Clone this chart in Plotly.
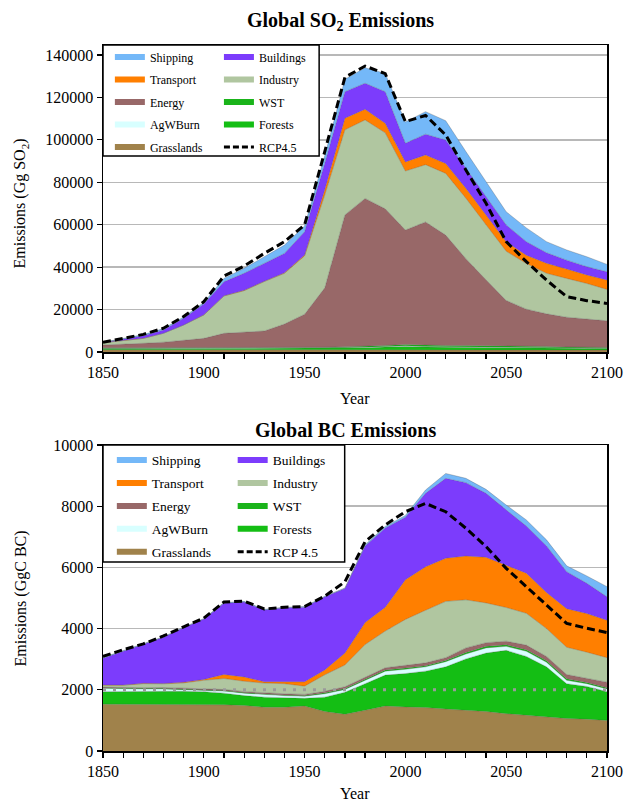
import plotly.graph_objects as go

# ---------------- data ----------------
years = [1850, 1860, 1870, 1880, 1890, 1900, 1910, 1920, 1930, 1940, 1950, 1960, 1970,
         1980, 1990, 2000, 2010, 2020, 2030, 2040, 2050, 2060, 2070, 2080, 2090, 2100]

# Global SO2 emissions (Gg SO2), stacked bottom -> top
so2_grasslands = [1100, 1100, 1100, 1100, 1100, 1100, 1050, 1050, 1000, 1000, 1000, 950, 950,
                  950, 900, 900, 900, 900, 900, 900, 900, 900, 900, 900, 900, 900]
so2_forests = [500, 500, 500, 500, 500, 500, 550, 550, 600, 600, 700, 800, 900,
               1000, 1400, 1700, 1400, 1300, 1300, 1300, 1300, 1200, 1100, 900, 800, 700]
so2_agwburn = [200, 200, 200, 220, 250, 280, 300, 320, 350, 330, 300, 280, 280,
               300, 300, 300, 250, 250, 250, 250, 250, 250, 250, 200, 200, 200]
so2_wst = [150, 150, 150, 150, 150, 150, 150, 150, 150, 150, 150, 200, 300,
           400, 500, 600, 600, 600, 600, 550, 500, 450, 400, 400, 350, 350]
so2_energy = [1350, 1650, 2150, 2650, 3500, 4400, 6750, 7250, 7800, 11100, 15650, 28000, 62200,
              69750, 64400, 54000, 58150, 52050, 40950, 31000, 21350, 17400, 15350, 14000, 13150, 12550]
so2_industry = [1100, 1700, 2300, 4200, 7200, 11000, 17600, 19600, 23300, 23900, 27500, 43800, 40100,
                37000, 35800, 27800, 27000, 29100, 28500, 26000, 23200, 21500, 19100, 18300, 16900, 14800]
so2_transport = [20, 30, 40, 50, 60, 80, 100, 150, 200, 250, 400, 2500, 5500,
                 5000, 4500, 4300, 4600, 4600, 4700, 4600, 4500, 3900, 4700, 4400, 4000, 4400]
so2_buildings = [100, 670, 1260, 1550, 3140, 5120, 6600, 8050, 8400, 9150, 11000, 12500, 12500,
                 12300, 14900, 8800, 9800, 11100, 9400, 8600, 7900, 6400, 5000, 4200, 3900, 3900]
so2_shipping = [50, 300, 500, 600, 600, 700, 1600, 2300, 3100, 3900, 2700, 3500, 5800,
                7300, 8600, 10000, 10600, 9100, 7900, 7300, 6200, 6500, 5200, 4800, 4700, 3500]
so2_rcp45 = [4570, 6300, 8300, 11200, 16700, 23700, 35800, 40500, 46500, 52000, 59900, 94500, 129500,
             134800, 131200, 108600, 111500, 102300, 85800, 70100, 52000, 42600, 33900, 26100, 24200, 22900]

# Global BC emissions (GgC BC), stacked bottom -> top
bc_grasslands = [1530, 1530, 1530, 1530, 1530, 1530, 1510, 1490, 1430, 1430, 1470, 1290, 1200,
                 1330, 1470, 1440, 1420, 1370, 1330, 1290, 1220, 1160, 1110, 1060, 1040, 1000]
bc_forests = [410, 420, 420, 420, 420, 410, 380, 320, 330, 300, 250, 470, 720,
              870, 1010, 1090, 1190, 1380, 1680, 1910, 2070, 1930, 1640, 1140, 1070, 940]
bc_agwburn = [110, 80, 80, 80, 60, 60, 70, 80, 80, 80, 70, 110, 90,
              110, 130, 140, 140, 170, 160, 170, 130, 170, 150, 110, 90, 90]
bc_wst = [20, 20, 20, 20, 20, 20, 20, 20, 20, 20, 20, 30, 30,
          40, 40, 40, 40, 40, 50, 50, 50, 50, 50, 50, 40, 40]
bc_energy = [20, 20, 20, 25, 25, 30, 30, 30, 40, 40, 40, 50, 60,
             60, 70, 90, 90, 90, 150, 120, 120, 150, 140, 140, 130, 180]
bc_industry = [60, 80, 130, 120, 170, 260, 360, 340, 320, 330, 270, 540, 710,
               1070, 1200, 1500, 1720, 1840, 1570, 1300, 1100, 1040, 910, 890, 860, 800]
bc_transport = [5, 5, 10, 10, 20, 30, 130, 140, 40, 60, 140, 160, 390,
                720, 780, 1300, 1420, 1410, 1430, 1490, 1390, 1310, 1180, 1260, 1260, 1220]
bc_buildings = [880, 1100, 1270, 1510, 1780, 1970, 2330, 2450, 2350, 2420, 2440, 2390, 2110,
                2500, 2590, 2040, 2400, 2610, 2400, 2090, 1800, 1540, 1520, 1210, 990, 770]
bc_shipping = [20, 20, 20, 20, 20, 20, 20, 20, 20, 20, 20, 20, 20,
               40, 50, 60, 110, 160, 140, 130, 160, 200, 200, 190, 240, 330]
bc_rcp45 = [3090, 3310, 3500, 3760, 4060, 4340, 4870, 4900, 4640, 4700, 4720, 5060, 5530,
            6840, 7390, 7820, 8090, 7820, 7280, 6680, 5970, 5370, 4770, 4170, 4010, 3870]
bc_reference_level = 2000

so2_ticks = [0, 20000, 40000, 60000, 80000, 100000, 120000, 140000]
bc_ticks = [0, 2000, 4000, 6000, 8000, 10000]
year_ticks = [1850, 1900, 1950, 2000, 2050, 2100]

# ---------------- style ----------------
FONT = "Liberation Serif, Times New Roman, serif"
COL = {
    "Shipping": "#74B8F8",
    "Buildings": "#7C3CFC",
    "Transport": "#FF7F00",
    "Industry": "#B0C6A0",
    "Energy": "#986868",
    "WST": "#1AB41A",
    "Forests": "#14BE14",
    "AgWBurn": "#D8FFFF",
    "Grasslands": "#A0824B",
}
EDGE = "rgba(70,70,70,0.55)"

W, H = 635, 803
ML, MR, MT, MB = 103, 19, 45, 52
PW, PH = W - ML - MR, H - MT - MB


def px_x(px):
    return (px - ML) / PW


def px_y(py):
    return (H - MB - py) / PH


fig = go.Figure()

so2_stack = [("Grasslands", so2_grasslands), ("Forests", so2_forests), ("AgWBurn", so2_agwburn),
             ("WST", so2_wst), ("Energy", so2_energy), ("Industry", so2_industry),
             ("Transport", so2_transport), ("Buildings", so2_buildings), ("Shipping", so2_shipping)]
bc_stack = [("Grasslands", bc_grasslands), ("Forests", bc_forests), ("AgWBurn", bc_agwburn),
            ("WST", bc_wst), ("Energy", bc_energy), ("Industry", bc_industry),
            ("Transport", bc_transport), ("Buildings", bc_buildings), ("Shipping", bc_shipping)]

for name, vals in so2_stack:
    fig.add_trace(go.Scatter(x=years, y=vals, mode="lines", stackgroup="so2",
                             fillcolor=COL[name], line=dict(color=EDGE, width=0.5),
                             name=name, showlegend=False, hoverinfo="skip",
                             xaxis="x", yaxis="y"))
for name, vals in bc_stack:
    fig.add_trace(go.Scatter(x=years, y=vals, mode="lines", stackgroup="bc",
                             fillcolor=COL[name], line=dict(color=EDGE, width=0.5),
                             name=name, showlegend=False, hoverinfo="skip",
                             xaxis="x2", yaxis="y2"))

fig.add_trace(go.Scatter(x=years, y=so2_rcp45, mode="lines", name="RCP4.5", showlegend=False,
                         line=dict(color="black", width=3, dash="8px,4px"),
                         xaxis="x", yaxis="y", hoverinfo="skip"))
fig.add_trace(go.Scatter(x=years, y=bc_rcp45, mode="lines", name="RCP 4.5", showlegend=False,
                         line=dict(color="black", width=3, dash="8px,4px"),
                         xaxis="x2", yaxis="y2", hoverinfo="skip"))

# legend entries (two columns per chart)
legend_cols = [
    ("legend", ["Shipping", "Transport", "Energy", "AgWBurn", "Grasslands"], None),
    ("legend2", ["Buildings", "Industry", "WST", "Forests"], "RCP4.5"),
    ("legend3", ["Shipping", "Transport", "Energy", "AgWBurn", "Grasslands"], None),
    ("legend4", ["Buildings", "Industry", "WST", "Forests"], "RCP 4.5"),
]
for lg, names, rcp in legend_cols:
    for nm in names:
        fig.add_trace(go.Scatter(x=[None], y=[None], mode="lines", name=nm,
                                 line=dict(color=COL[nm], width=6),
                                 legend=lg, legendgroup=lg + nm, showlegend=True,
                                 xaxis="x", yaxis="y"))
    if rcp:
        fig.add_trace(go.Scatter(x=[None], y=[None], mode="lines", name=rcp,
                                 line=dict(color="black", width=3, dash="6px,3px"),
                                 legend=lg, legendgroup=lg + "rcp", showlegend=True,
                                 xaxis="x", yaxis="y"))


def leg(xpx, ypx, size, gap):
    return dict(x=px_x(xpx), y=px_y(ypx), xanchor="left", yanchor="top",
                bgcolor="rgba(0,0,0,0)", borderwidth=0, traceorder="grouped",
                tracegroupgap=gap, font=dict(family=FONT, size=size, color="black"),
                itemclick=False, itemdoubleclick=False)


def ann(text, xpx, ypx, size, angle=0, bold=False):
    return dict(text=("<b>%s</b>" % text) if bold else text, xref="paper", yref="paper",
                x=px_x(xpx), y=px_y(ypx), xanchor="center", yanchor="middle",
                textangle=angle, showarrow=False,
                font=dict(family=FONT, size=size, color="black"))


axis_common = dict(showline=True, linecolor="black", linewidth=1.5, mirror=True,
                   ticks="outside", ticklen=5, tickwidth=1.2, tickcolor="black",
                   tickfont=dict(family=FONT, size=16, color="black"), zeroline=False)

xaxis_common = dict(axis_common, range=[1850, 2100], tickvals=year_ticks, showgrid=False,
                    minor=dict(dtick=10, tick0=1850, ticks="outside", ticklen=5,
                               tickwidth=1.2, tickcolor="black", showgrid=False))

so2_top = 140000 * (352 - 45) / (352 - 55)

fig.update_layout(
    width=W, height=H, margin=dict(l=ML, r=MR, t=MT, b=MB),
    paper_bgcolor="white", plot_bgcolor="white", hovermode=False,
    font=dict(family=FONT, color="black"),
    xaxis=dict(xaxis_common, anchor="y", domain=[0, 1]),
    yaxis=dict(axis_common, domain=[px_y(352), 1.0], range=[0, so2_top], tickvals=so2_ticks,
               tickformat="d", showgrid=True, gridcolor="#b8b8b8", gridwidth=1.5),
    xaxis2=dict(xaxis_common, anchor="y2", domain=[0, 1]),
    yaxis2=dict(axis_common, domain=[0, px_y(445)], range=[0, 10000], tickvals=bc_ticks,
                tickformat="d", showgrid=True, gridcolor="#b8b8b8", gridwidth=1.5),
    legend=leg(110, 42.5, 12, 3.5),
    legend2=leg(221, 42.5, 12, 3.5),
    legend3=leg(112, 444.7, 13.5, 2.4),
    legend4=leg(235, 444.7, 13.5, 2.4),
    shapes=[
        dict(type="rect", xref="paper", yref="paper", x0=px_x(103), x1=px_x(323),
             y0=px_y(156), y1=px_y(45), fillcolor="white", line=dict(color="black", width=1.5),
             layer="above"),
        dict(type="rect", xref="paper", yref="paper", x0=px_x(103), x1=px_x(349),
             y0=px_y(562), y1=px_y(445), fillcolor="white", line=dict(color="black", width=1.5),
             layer="above"),
        dict(type="line", xref="x2 domain", yref="y2", x0=0, x1=1,
             y0=bc_reference_level, y1=bc_reference_level,
             line=dict(color="#9a9a9a", width=3, dash="3px,7px"), layer="above"),
    ],
    annotations=[
        ann("Global SO<sub>2</sub> Emissions", 345, 22, 20, bold=True),
        ann("Global BC Emissions", 350, 430, 20, bold=True),
        ann("Emissions (Gg SO<sub>2</sub>)", 20, 203, 16, angle=-90),
        ann("Emissions (GgC BC)", 20, 598, 16, angle=-90),
        ann("Year", 360, 398, 16),
        ann("Year", 360, 793, 16),
    ],
)

fig.write_html("out.html", config={"displayModeBar": False, "staticPlot": True},
               post_script="document.body.style.margin='0px';document.body.style.overflow='hidden';")
